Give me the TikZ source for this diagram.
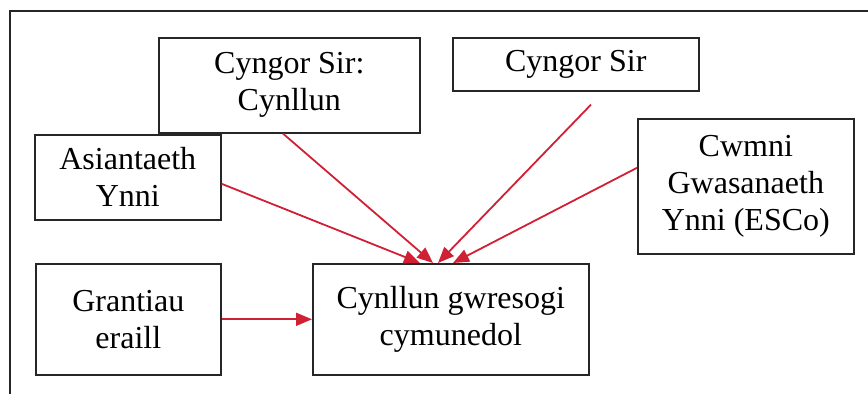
\documentclass[tikz,border=0pt]{standalone}
\usepackage{fontspec}
\setmainfont{Liberation Serif}
\usetikzlibrary{arrows.meta}
\definecolor{arrred}{RGB}{208,32,52}
\begin{document}
\begin{tikzpicture}[x=1pt,y=-1pt,
  box/.style={draw=black!85,line width=1.6pt,anchor=north west,align=center,inner sep=0pt,
    font=\fontsize{32}{37}\selectfont},
  arr/.style={draw=arrred,line width=1.8pt,-{Triangle[length=16pt,width=13pt]}}]
\useasboundingbox (0,0) rectangle (868,394);
\draw[line width=1.5pt,black!85] (10,394) -- (10,11) -- (868,11);
\node[box,minimum width=261pt,minimum height=95pt] (csc) at (158,37) {Cyngor Sir:\\Cynllun};
\node[box,minimum width=246pt,minimum height=53pt] (cs) at (452,37) {Cyngor Sir};
\node[box,minimum width=186pt,minimum height=85pt] (asi) at (34,134) {Asiantaeth\\Ynni};
\node[box,minimum width=216pt,minimum height=135pt] (cw) at (637,118) {Cwmni\\Gwasanaeth\\Ynni (ESCo)};
\node[box,minimum width=185pt,minimum height=111pt] (gr) at (35,263) {Grantiau\\eraill};
\node[box,minimum width=276pt,minimum height=111pt] (cyn) at (312,263) {Cynllun gwresogi\\cymunedol};
\draw[arr] ([yshift=-6.5pt]asi.east) -- ([xshift=108pt]cyn.north west);
\draw[arr] ([xshift=125pt]csc.south west) -- ([xshift=121pt]cyn.north west);
\draw[arr] ([xshift=139pt,yshift=-13pt]cs.south west) -- ([xshift=126pt]cyn.north west);
\draw[arr] ([yshift=18.5pt]cw.west) -- ([xshift=141pt]cyn.north west);
\draw[arr] (gr.east) -- (cyn.west);
\end{tikzpicture}
\end{document}
